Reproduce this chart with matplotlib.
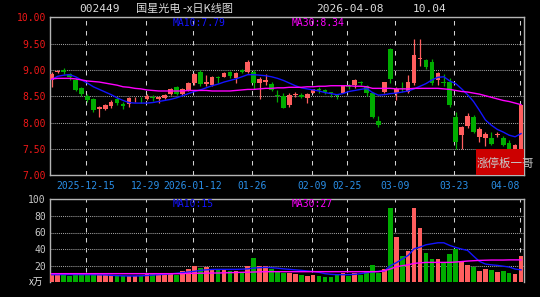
import matplotlib
matplotlib.use("Agg")
import matplotlib.pyplot as plt
from matplotlib.patches import Rectangle
import numpy as np

# ---------------- data ----------------
opens = [8.81, 8.96, 9.00, 8.92, 8.81, 8.65, 8.51, 8.44, 8.26, 8.26,
         8.31, 8.45, 8.36, 8.36, 8.44, 8.45, 8.44, 8.48, 8.45, 8.47,
         8.54, 8.67, 8.55, 8.62, 8.75, 8.97, 8.73, 8.72, 8.86, 8.87,
         8.96, 8.85, 8.99, 8.97, 8.97, 8.76, 8.78, 8.74, 8.52, 8.51,
         8.33, 8.53, 8.52, 8.46, 8.57, 8.64, 8.61, 8.57, 8.52, 8.57,
         8.70, 8.71, 8.78, 8.69, 8.56, 8.03, 8.59, 9.40, 8.57, 8.65,
         8.59, 8.76, 9.20, 9.18, 9.15, 8.80, 8.76, 8.78, 8.11, 7.76,
         7.93, 8.11, 7.72, 7.71, 7.71, 7.76, 7.71, 7.61, 7.50, 7.50]
closes = [8.92, 8.98, 8.97, 8.87, 8.62, 8.54, 8.42, 8.23, 8.30, 8.33,
          8.40, 8.38, 8.31, 8.47, 8.45, 8.44, 8.51, 8.47, 8.48, 8.52,
          8.63, 8.55, 8.63, 8.76, 8.93, 8.73, 8.77, 8.86, 8.85, 8.95,
          8.89, 8.94, 8.97, 9.16, 8.75, 8.83, 8.80, 8.62, 8.50, 8.28,
          8.53, 8.55, 8.48, 8.55, 8.63, 8.62, 8.58, 8.56, 8.50, 8.69,
          8.68, 8.81, 8.76, 8.56, 8.11, 7.95, 8.77, 8.83, 8.63, 8.63,
          8.77, 9.28, 9.22, 9.06, 8.75, 8.94, 8.75, 8.33, 7.63, 7.92,
          8.12, 7.82, 7.88, 7.79, 7.60, 7.78, 7.58, 7.50, 7.58, 8.34]
highs = [8.97, 8.99, 9.03, 8.94, 8.84, 8.67, 8.54, 8.46, 8.31, 8.36,
         8.42, 8.49, 8.40, 8.49, 8.49, 8.49, 8.54, 8.53, 8.51, 8.55,
         8.66, 8.70, 8.66, 8.78, 8.95, 9.00, 8.91, 8.88, 8.88, 8.96,
         8.98, 8.96, 9.01, 9.19, 9.00, 8.86, 8.92, 8.77, 8.62, 8.56,
         8.56, 8.58, 8.56, 8.56, 8.64, 8.67, 8.64, 8.58, 8.54, 8.70,
         8.74, 8.83, 8.79, 8.72, 8.58, 8.12, 8.78, 9.41, 8.67, 8.77,
         8.90, 9.59, 9.58, 9.21, 9.20, 8.96, 8.93, 8.84, 8.20, 7.94,
         8.18, 8.14, 7.91, 7.82, 7.82, 7.82, 7.74, 7.67, 7.60, 8.34]
lows = [8.68, 8.95, 8.92, 8.81, 8.60, 8.51, 8.39, 8.21, 8.10, 8.24,
        8.28, 8.33, 8.26, 8.30, 8.40, 8.38, 8.42, 8.41, 8.37, 8.45,
        8.53, 8.53, 8.52, 8.60, 8.72, 8.70, 8.70, 8.70, 8.76, 8.86,
        8.85, 8.76, 8.95, 8.95, 8.63, 8.44, 8.72, 8.60, 8.40, 8.27,
        8.30, 8.48, 8.46, 8.38, 8.56, 8.57, 8.54, 8.48, 8.45, 8.56,
        8.63, 8.66, 8.71, 8.50, 8.08, 7.91, 8.57, 8.75, 8.43, 8.58,
        8.57, 8.72, 9.08, 9.01, 8.72, 8.71, 8.70, 8.30, 7.50, 7.50,
        7.90, 7.80, 7.63, 7.56, 7.58, 7.72, 7.55, 7.48, 7.48, 7.50]
ma10 = [8.82, 8.88, 8.90, 8.91, 8.87, 8.81, 8.75, 8.68, 8.63, 8.58,
        8.53, 8.47, 8.42, 8.38, 8.37, 8.37, 8.37, 8.38, 8.40, 8.42,
        8.44, 8.47, 8.51, 8.55, 8.59, 8.62, 8.66, 8.70, 8.73, 8.77,
        8.80, 8.83, 8.87, 8.91, 8.91, 8.90, 8.89, 8.87, 8.84, 8.80,
        8.75, 8.70, 8.66, 8.64, 8.62, 8.60, 8.57, 8.55, 8.53, 8.55,
        8.59, 8.61, 8.63, 8.65, 8.57, 8.52, 8.53, 8.55, 8.56, 8.58,
        8.60, 8.64, 8.69, 8.74, 8.81, 8.86, 8.87, 8.79, 8.74, 8.64,
        8.53, 8.40, 8.23, 8.05, 7.95, 7.87, 7.82, 7.76, 7.73, 7.79]
ma30 = [8.83, 8.84, 8.84, 8.84, 8.83, 8.81, 8.79, 8.78, 8.77, 8.75,
        8.73, 8.71, 8.68, 8.67, 8.65, 8.64, 8.62, 8.61, 8.60, 8.60,
        8.60, 8.60, 8.60, 8.61, 8.61, 8.61, 8.61, 8.60, 8.60, 8.60,
        8.60, 8.61, 8.62, 8.63, 8.63, 8.64, 8.65, 8.65, 8.66, 8.66,
        8.67, 8.67, 8.67, 8.68, 8.68, 8.69, 8.69, 8.70, 8.70, 8.70,
        8.70, 8.69, 8.69, 8.68, 8.65, 8.65, 8.65, 8.65, 8.64, 8.64,
        8.64, 8.65, 8.65, 8.65, 8.65, 8.65, 8.64, 8.63, 8.61, 8.59,
        8.58, 8.56, 8.54, 8.51, 8.48, 8.45, 8.42, 8.40, 8.37, 8.34]
volumes = [10.4, 9.2, 9.2, 7.2, 9.2, 11.6, 9.2, 11.6, 9.2, 9.2,
           9.2, 8.0, 7.6, 7.2, 7.6, 7.6, 11.6, 10.4, 9.2, 9.2,
           11.6, 9.2, 13.2, 16.4, 20.0, 17.2, 18.0, 15.6, 14.8, 14.4,
           13.2, 13.2, 11.6, 20.0, 28.8, 20.0, 19.2, 16.4, 13.2, 11.6,
           11.6, 10.4, 8.4, 7.2, 8.4, 7.6, 6.4, 6.8, 8.4, 11.6,
           7.6, 11.6, 9.2, 13.2, 21.2, 11.6, 16.4, 89.1, 54.3, 31.2,
           37.2, 89.1, 65.6, 35.6, 27.6, 28.4, 23.6, 34.4, 40.4, 24.4,
           20.4, 18.4, 13.2, 16.4, 14.4, 12.4, 13.6, 11.2, 9.6, 31.2]
vol_ma10 = [9.2, 9.2, 9.3, 9.3, 9.3, 9.2, 9.2, 9.1, 9.0, 8.9,
            8.4, 8.0, 7.8, 7.6, 7.6, 7.8, 8.2, 8.7, 9.2, 9.6,
            10.2, 10.8, 11.6, 12.4, 13.2, 14.4, 15.0, 15.5, 15.6, 15.6,
            15.6, 15.6, 15.8, 16.2, 17.2, 17.6, 18.0, 17.6, 17.0, 16.2,
            15.6, 15.0, 14.4, 13.6, 13.0, 12.0, 10.4, 9.6, 9.2, 9.2,
            9.2, 9.6, 10.4, 11.6, 12.6, 13.2, 13.6, 20.0, 23.6, 28.0,
            32.4, 40.4, 42.4, 45.2, 46.4, 47.6, 47.6, 44.4, 42.0, 40.0,
            38.4, 31.6, 25.2, 22.0, 21.0, 20.4, 19.4, 18.4, 16.0, 15.0]
vol_ma30 = [10.4, 10.4, 10.4, 10.4, 10.4, 10.4, 10.4, 10.4, 10.4, 10.4,
            10.4, 10.4, 10.4, 10.4, 10.4, 10.4, 10.4, 10.4, 10.4, 10.4,
            10.4, 10.4, 10.4, 10.8, 10.8, 11.0, 11.0, 11.2, 11.2, 11.4,
            11.6, 11.8, 12.0, 12.2, 12.4, 12.6, 12.8, 12.8, 12.8, 12.8,
            12.8, 12.8, 12.8, 12.8, 12.8, 12.8, 12.8, 12.8, 12.8, 12.8,
            12.8, 12.8, 12.8, 12.8, 12.8, 12.8, 14.0, 16.0, 18.8, 20.0,
            21.0, 22.8, 23.4, 24.0, 24.0, 24.0, 24.0, 24.0, 24.4, 25.0,
            25.6, 26.0, 26.4, 26.6, 26.8, 26.8, 26.8, 27.0, 27.0, 27.0]
tick_idx = [6, 16, 24, 34, 44, 50, 58, 68, 79]
tick_labels = ["2025-12-15", "12-29", "2026-01-12", "01-26", "02-09",
               "02-25", "03-09", "03-23", "04-08"]
price_ticks = [7.0, 7.5, 8.0, 8.5, 9.0, 9.5, 10.0]
vol_ticks = [20, 40, 60, 80, 100]
stock_code = "002449"
stock_title = "国星光电 -x日K线图"
date_text = "2026-04-08"
price_text = "10.04"
badge_text = "涨停板一哥"
vol_unit = "x万"

# ---------------- style ----------------
RED = "#FF5E5E"
GREEN = "#00AC00"
BLUE = "#1414FF"
MAG = "#FF00FF"
SPINE = "#B4B4B4"
MONO = "DejaVu Sans Mono"
CJK = ["Noto Sans CJK SC", "DejaVu Sans"]
W, H = 540, 297

fig = plt.figure(figsize=(W / 100, H / 100), dpi=100, facecolor="black")
ax = fig.add_axes([50 / W, 1 - 175.2 / H, 474.3 / W, 157.9 / H], facecolor="black")
axv = fig.add_axes([50 / W, 1 - 282.3 / H, 474.3 / W, 83 / H], facecolor="black")

x = np.arange(len(opens))
o = np.array(opens); c = np.array(closes)
h = np.array(highs); l = np.array(lows)
up = c >= o
cols = np.where(up, RED, GREEN)

# candles
ax.vlines(x, l, h, colors=cols, lw=0.9, zorder=3)
body_bot = np.minimum(o, c)
body_h = np.maximum(np.abs(c - o), 0.015)
ax.bar(x, body_h, bottom=body_bot, width=0.78, color=cols, linewidth=0, zorder=4)
ax.plot(x, ma10, color=BLUE, lw=1.0, zorder=5)
ax.plot(x, ma30, color=MAG, lw=1.0, zorder=5)

# volume
axv.bar(x, volumes, width=0.78, color=cols, linewidth=0, zorder=3)
axv.plot(x, vol_ma10, color=BLUE, lw=1.0, zorder=5)
axv.plot(x, vol_ma30, color=MAG, lw=1.0, zorder=5)

xlim = (-0.30, 79.55)
tick_pos = [i - 0.22 for i in tick_idx]
for a in (ax, axv):
    a.set_xlim(*xlim)
    a.set_xticks(tick_pos)
    a.xaxis.grid(True, color="#D2D2D2", ls=(0, (4.3, 5.3)), lw=0.75)
    a.yaxis.grid(True, color="#A0A0A0", ls=(0, (1, 1)), lw=0.75)
    a.set_axisbelow(True)
    for s in a.spines.values():
        s.set_color(SPINE)
        s.set_linewidth(1.0)
    a.tick_params(length=0)

ax.set_ylim(7.0, 10.0)
ax.set_yticks(price_ticks)
ax.set_yticklabels([f"{v:.2f}" for v in price_ticks], color="#F01818",
                   fontfamily=MONO, fontsize=7)
ax.tick_params(axis="y", pad=3)
ax.set_xticklabels(tick_labels, color="#2A8FE8", fontfamily=MONO, fontsize=7)
ax.tick_params(axis="x", pad=4.5)
ax.get_xticklabels()[-1].set_ha("right")

axv.set_ylim(0, 100)
axv.set_yticks(vol_ticks)
axv.set_yticklabels([str(v) for v in vol_ticks], color="#C8C8C8",
                    fontfamily=MONO, fontsize=7)
axv.tick_params(axis="y", pad=3)
axv.set_xticklabels([])
axv.spines["bottom"].set_visible(False)

# texts
def ft(px, py, s, **kw):
    fig.text(px / W, 1 - py / H, s, va="center", **kw)

ft(100, 9, stock_code, ha="center", color="#DCDCDC", fontfamily=MONO, fontsize=8)
ft(136, 9, stock_title, ha="left", color="#DCDCDC", fontfamily=CJK, fontsize=8)
ft(316, 9, date_text, ha="left", color="#DCDCDC", fontfamily=MONO, fontsize=8)
ft(413, 9, price_text, ha="left", color="#DCDCDC", fontfamily=MONO, fontsize=8)
ft(173, 23.5, f"MA10:{ma10[-1]:.2f}", ha="left", color=BLUE, fontfamily=MONO, fontsize=7)
ft(292, 23.5, f"MA30:{ma30[-1]:.2f}", ha="left", color=MAG, fontfamily=MONO, fontsize=7)
ft(173, 204, f"MA10:{vol_ma10[-1]:.0f}", ha="left", color=BLUE, fontfamily=MONO, fontsize=7)
ft(292, 204, f"MA30:{vol_ma30[-1]:.0f}", ha="left", color=MAG, fontfamily=MONO, fontsize=7)
ft(29, 282, vol_unit, ha="left", color="#E0E0E0", fontfamily=CJK, fontsize=7)

fig.patches.append(Rectangle((475.7 / W, 1 - 175 / H), (524.3 - 475.7) / W, 26 / H,
                             transform=fig.transFigure, facecolor="#CC0000",
                             edgecolor="none", zorder=10))
ft(477, 163, badge_text, ha="left", color="#C8C8C8", fontfamily=CJK, fontsize=8.3,
   zorder=11)

fig.savefig("out.png", dpi=100, facecolor="black")
